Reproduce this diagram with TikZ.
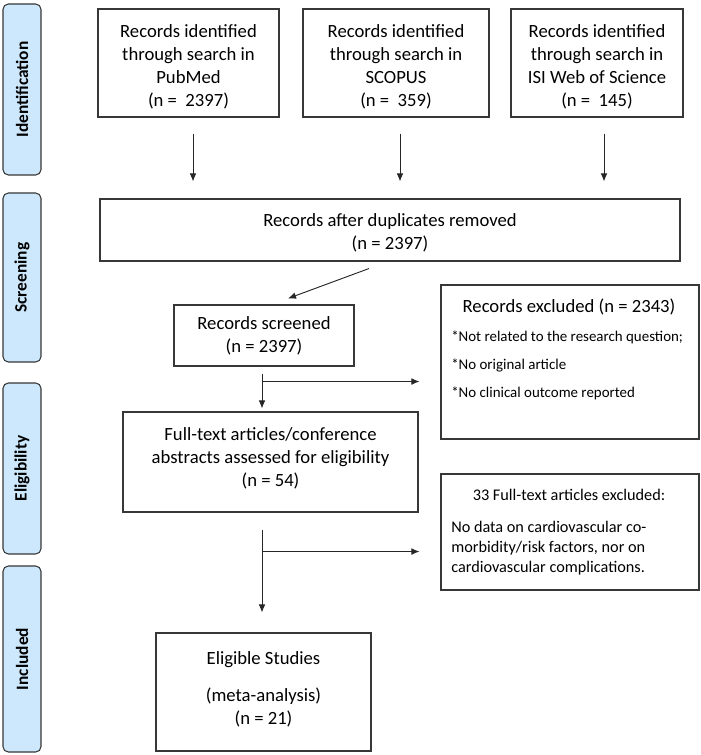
\documentclass[tikz,border=0pt]{standalone}
\usepackage{fontspec}
\setmainfont{Carlito}
\usetikzlibrary{arrows.meta,calc}
\definecolor{bandblue}{RGB}{205,232,252}
\definecolor{edge}{RGB}{55,55,55}
\begin{document}
\begin{tikzpicture}[x=0.75pt,y=-0.75pt,
  box/.style={draw=edge,line width=0.8pt,inner sep=0pt,align=center,font=\fontsize{14}{17.25}\selectfont},
  band/.style={draw=edge,fill=bandblue,rounded corners=4pt,line width=0.8pt,inner sep=0pt,
    font=\fontsize{13}{15}\selectfont\bfseries,rotate=90,minimum height=28.5pt},
  arr/.style={-{Latex[length=6pt,width=5pt]},line width=0.7pt,black!85},
  inlabel/.style={label={[inner sep=0pt,align=center,font=\fontsize{14}{17.25}\selectfont,yshift=#1]center:}},
  bigtxt/.style={inner sep=0pt,font=\fontsize{14}{17.25}\selectfont},
  smalltxt/.style={inner sep=0pt,anchor=west,font=\fontsize{11.2}{13}\selectfont},
  midtxt/.style={inner sep=0pt,font=\fontsize{12.2}{15}\selectfont,align=left}]
\useasboundingbox (0,0) rectangle (700,755);

% side bands
\node[band,minimum width=171*0.75pt] (bid) at (22,89.5) {Identification};
\node[band,minimum width=169*0.75pt] (bsc) at (22,277.5) {Screening};
\node[band,minimum width=171*0.75pt] (bel) at (22,468.5) {Eligibility};
\node[band,minimum width=186*0.75pt] (bin) at (22,659) {Included};

% identification boxes
\node[box,minimum width=181*0.75pt,minimum height=108*0.75pt,
  label={[box,draw=none,yshift=-3pt]center:{Records identified\\through search in\\PubMed\\(n =~ 2397)}}] (b1) at (188.5,63) {};
\node[box,minimum width=186*0.75pt,minimum height=108*0.75pt,
  label={[box,draw=none,yshift=-3pt]center:{Records identified\\through search in\\SCOPUS\\(n =~ 359)}}] (b2) at (396,63) {};
\node[box,minimum width=172*0.75pt,minimum height=108*0.75pt,
  label={[box,draw=none,yshift=-3pt]center:{Records identified\\through search in\\ISI Web of Science\\(n =~ 145)}}] (b3) at (597,63) {};

% screening
\node[box,minimum width=580*0.75pt,minimum height=62*0.75pt,
  label={[box,draw=none,yshift=-2pt]center:{Records after duplicates removed\\(n = 2397)}}] (dup) at (390,230) {};
\node[box,minimum width=180*0.75pt,minimum height=61*0.75pt] (scr) at (264,335.5)
  {Records screened\\(n = 2397)};
\node[box,minimum width=258*0.75pt,minimum height=154*0.75pt] (excl) at (570,362) {};
\node[bigtxt] (exclt) at (569,307) {Records excluded (n = 2343)};
\node[smalltxt] (exa) at (451,337) {*Not related to the research question;};
\node[smalltxt] (exb) at (451,365) {*No original article};
\node[smalltxt] (exc) at (451,393) {*No clinical outcome reported};

% eligibility
\node[box,minimum width=295*0.75pt,minimum height=100*0.75pt,
  label={[box,draw=none,yshift=3pt]center:{Full-text articles/conference\\abstracts assessed for eligibility\\(n = 54)}}] (ft) at (270.5,462) {};
\node[box,minimum width=258*0.75pt,minimum height=116*0.75pt] (ex2) at (570,532) {};
\node[midtxt] (ex2t) at (569,495) {33 Full-text articles excluded:};
\node[midtxt,anchor=west] (ex2b) at (451,548)
  {No data on cardiovascular co-\\morbidity/risk factors, nor on\\cardiovascular complications.};

% included
\node[box,minimum width=215*0.75pt,minimum height=118*0.75pt,
  label={[box,draw=none,yshift=2pt]center:{Eligible Studies\\[10pt](meta-analysis)\\(n = 21)}}] (elig) at (263.5,692) {};

% arrows
\draw[arr] ($(b1.south)+(4.5,16)$) -- ($(b1.south|-dup.north)+(4.5,-17)$);
\draw[arr] ($(b2.south)+(4,16)$) -- ($(b2.south|-dup.north)+(4,-17)$);
\draw[arr] ($(b3.south)+(7,16)$) -- ($(b3.south|-dup.north)+(7,-17)$);
\draw[arr] ($(dup.south)+(-21,7)$) -- ($(scr.north)+(24,-6)$);
\draw[arr] ($(scr.south)+(-2,7)$) -- ($(scr.south|-ft.north)+(-2,-3)$);
\coordinate (j1) at ($(scr.south)+(-2,15)$);
\draw[arr,shorten >=15.75pt] (j1) -- (j1 -| excl.west);
\draw[arr] ($(ft.south)+(-8.5,17)$) -- ($(ft.south|-elig.north)+(-8.5,-20)$);
\coordinate (j2) at ($(ft.south)+(-8.5,39)$);
\draw[arr,shorten >=15.75pt] (j2) -- (j2 -| ex2.west);
\end{tikzpicture}
\end{document}
